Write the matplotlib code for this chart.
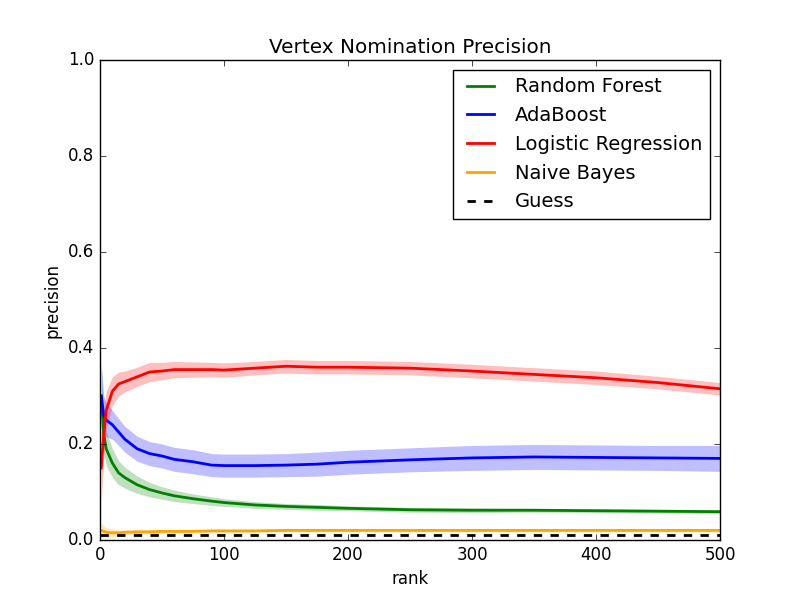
import numpy as np
import matplotlib
matplotlib.use("Agg")
import matplotlib.pyplot as plt

plt.style.use("classic")

rank = [1, 3, 5, 10, 15, 20, 30, 40, 50, 60, 75, 90, 100, 125, 150, 175, 200, 250, 300, 350, 400, 450, 500]

rf_mean = [0.30, 0.22, 0.19, 0.16, 0.14, 0.13, 0.115, 0.105, 0.098, 0.092, 0.086, 0.081, 0.078, 0.073, 0.070, 0.068, 0.066, 0.063, 0.062, 0.062, 0.061, 0.060, 0.059]
rf_err = [0.06, 0.04, 0.035, 0.03, 0.025, 0.022, 0.018, 0.015, 0.013, 0.012, 0.01, 0.009, 0.008, 0.007, 0.006, 0.006, 0.005, 0.005, 0.005, 0.004, 0.004, 0.004, 0.004]

ada_mean = [0.30, 0.26, 0.25, 0.24, 0.225, 0.21, 0.19, 0.18, 0.175, 0.168, 0.163, 0.156, 0.155, 0.155, 0.156, 0.158, 0.162, 0.167, 0.171, 0.173, 0.172, 0.171, 0.170]
ada_err = [0.07, 0.04, 0.035, 0.03, 0.028, 0.027, 0.026, 0.025, 0.025, 0.025, 0.025, 0.024, 0.024, 0.024, 0.024, 0.025, 0.025, 0.025, 0.026, 0.026, 0.026, 0.026, 0.027]

lr_mean = [0.15, 0.22, 0.27, 0.31, 0.325, 0.33, 0.34, 0.35, 0.352, 0.355, 0.355, 0.355, 0.354, 0.358, 0.362, 0.360, 0.360, 0.358, 0.352, 0.345, 0.338, 0.328, 0.315]
lr_err = [0.07, 0.05, 0.04, 0.03, 0.025, 0.022, 0.02, 0.02, 0.018, 0.017, 0.016, 0.015, 0.015, 0.014, 0.014, 0.014, 0.014, 0.014, 0.014, 0.014, 0.014, 0.013, 0.013]

nb_mean = [0.02, 0.018, 0.016, 0.015, 0.015, 0.016, 0.017, 0.017, 0.018, 0.018, 0.018, 0.019, 0.019, 0.019, 0.020, 0.020, 0.020, 0.020, 0.020, 0.020, 0.020, 0.020, 0.020]
nb_err = [0.015, 0.012, 0.01, 0.008, 0.006, 0.005, 0.004, 0.004, 0.004, 0.003, 0.003, 0.003, 0.003, 0.003, 0.003, 0.003, 0.003, 0.003, 0.003, 0.003, 0.003, 0.003, 0.003]

guess = 0.01

series = [
    ("Random Forest", rf_mean, rf_err, "green"),
    ("AdaBoost", ada_mean, ada_err, "blue"),
    ("Logistic Regression", lr_mean, lr_err, "red"),
    ("Naive Bayes", nb_mean, nb_err, "orange"),
]

fig, ax = plt.subplots(figsize=(8, 6), dpi=100)
x = np.array(rank)
for name, m, e, c in series:
    m = np.array(m)
    e = np.array(e)
    ax.fill_between(x, m - e, m + e, color=c, alpha=0.25, linewidth=0)
    ax.plot(x, m, color=c, linewidth=2, label=name)
ax.plot([0, 500], [guess, guess], "k--", linewidth=2, label="Guess")

ax.set_xlim(0, 500)
ax.set_ylim(0, 1.0)
ax.set_xlabel("rank")
ax.set_ylabel("precision")
ax.set_title("Vertex Nomination Precision")
ax.legend(loc="upper right", fontsize=14)
fig.savefig("out.png", dpi=100)
